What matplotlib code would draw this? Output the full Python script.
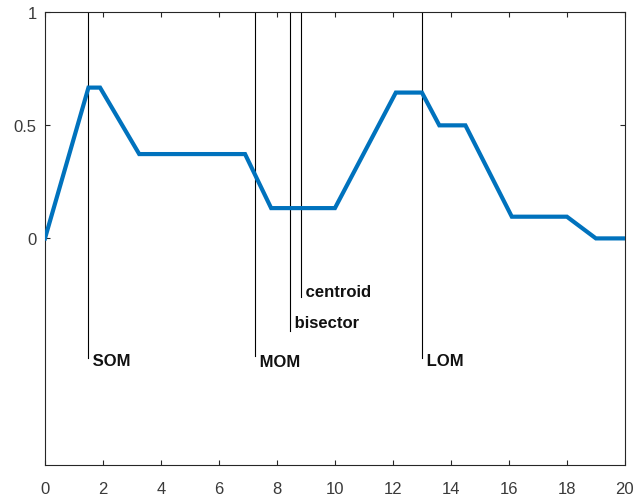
import matplotlib
matplotlib.use("Agg")
import matplotlib.pyplot as plt

# membership function
xs = [0, 1.5, 1.9, 3.25, 6.9, 7.8, 10, 12.1, 13, 13.6, 14.5, 16.1, 18, 19, 20]
ys = [0, 0.667, 0.667, 0.373, 0.373, 0.134, 0.134, 0.645, 0.645, 0.5, 0.5, 0.096, 0.096, 0, 0]

# defuzzification results
labels = ["SOM", "MOM", "bisector", "centroid", "LOM"]
xvals = [1.5, 7.25, 8.45, 8.82, 13.0]
line_bottoms = [-0.53, -0.52, -0.41, -0.26, -0.53]
text_y = [-0.54, -0.545, -0.372, -0.235, -0.54]

xticks = [0, 2, 4, 6, 8, 10, 12, 14, 16, 18, 20]
yticks = [0, 0.5, 1]
ytick_labels = ["0", "0.5", "1"]

plt.rcParams['font.family'] = ['Liberation Sans', 'DejaVu Sans']

fig = plt.figure(figsize=(6.37, 5.02), dpi=100)
ax = fig.add_axes([0.0706, 0.0727, 0.9104, 0.9008])

axcol = '#262626'
ax.plot(xs, ys, color='#0072BD', lw=3.0, solid_joinstyle='miter', zorder=3)

for lab, xv, lb, ty in zip(labels, xvals, line_bottoms, text_y):
    ax.plot([xv, xv], [lb, 1.2], color='k', lw=0.8, zorder=2)
    ax.text(xv, ty, " " + lab, fontsize=12, fontweight='bold', color='#111111',
            ha='left', va='center')

ax.set_xlim(0, 20)
ax.set_ylim(-1, 1)
ax.set_xticks(xticks)
ax.set_xticklabels([str(t) for t in xticks])
ax.set_yticks(yticks)
ax.set_yticklabels(ytick_labels)

for s in ax.spines.values():
    s.set_color(axcol)
    s.set_linewidth(0.8)
ax.tick_params(direction='in', length=3.5, width=0.8, colors=axcol,
               labelsize=12, top=True, right=True, pad=6)
ax.tick_params(axis='x', pad=12)
for t in ax.get_xticklabels() + ax.get_yticklabels():
    t.set_color('#3a3a3a')

fig.savefig("out.png", dpi=100)
